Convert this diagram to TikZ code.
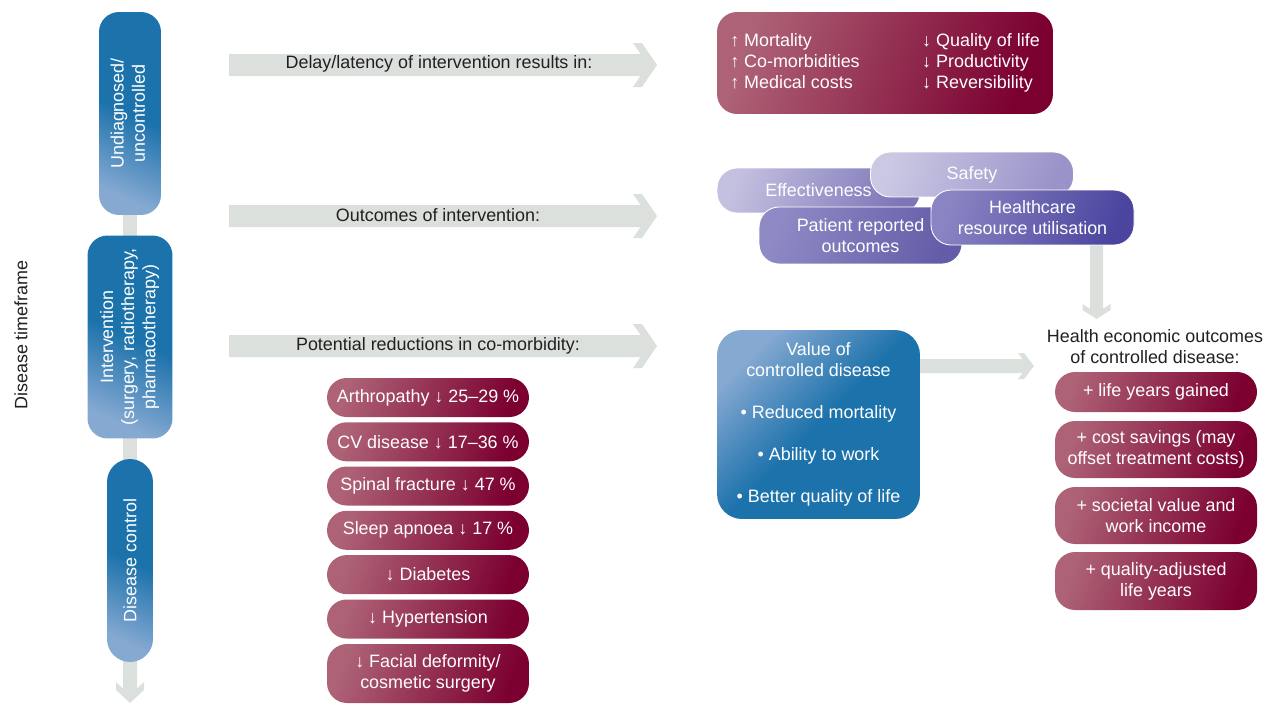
\documentclass[tikz,border=0pt]{standalone}
\usepackage{fontspec}
\setmainfont{Liberation Sans}
\usetikzlibrary{backgrounds}
\definecolor{bluedark}{HTML}{1C72AB}
\definecolor{bluelight}{HTML}{86A9D2}
\definecolor{reddark}{HTML}{7B0030}
\definecolor{redlight}{HTML}{AD6276}
\definecolor{arrowgrey}{HTML}{DBE0DD}
\definecolor{labelgrey}{HTML}{231F20}
\definecolor{effleft}{HTML}{C3C0E0}
\definecolor{effright}{HTML}{7C76B8}
\definecolor{safleft}{HTML}{CBC8E4}
\definecolor{safright}{HTML}{9A93C9}
\definecolor{proleft}{HTML}{8F8AC5}
\definecolor{proright}{HTML}{635DA8}
\definecolor{hcleft}{HTML}{8984C2}
\definecolor{hcright}{HTML}{4B459F}

\begin{document}
\begin{tikzpicture}[x=0.02cm,y=-0.02cm,
  every node/.style={font=\fontsize{10.2}{12}\selectfont, inner sep=0pt},
  lbl/.style={text=labelgrey, align=center},
  phase/.style={top color=bluedark, bottom color=bluelight, middle color=bluedark, shading angle=-25,
    text=white, rounded corners=4mm, minimum height=40.6mm},
  redfill/.style={left color=redlight, right color=reddark, shading angle=70, text=white},
  redpill/.style={redfill, align=center, minimum width=40.4mm, minimum height=7.8mm, rounded corners=3.9mm},
  purp/.style 2 args={left color=#1, right color=#2, shading angle=70, text=white, align=center,
    draw=white, line width=0.5pt, rounded corners=4mm, minimum width=40.6mm}]
\useasboundingbox (0,0) rectangle (1266,703);

\node[lbl, rotate=90] (timeframe) at (21,335) {Disease timeframe};
\node[phase, minimum width=12.4mm] (undiag) at (130,113.5)
  {\rotatebox{90}{\begin{tabular}{@{}c@{}}Undiagnosed/\\uncontrolled\end{tabular}}};
\node[phase, minimum width=17mm] (interv) at (130,337)
  {\rotatebox{90}{\begin{tabular}{@{}c@{}}Intervention\\(surgery, radiotherapy,\\pharmacotherapy)\end{tabular}}};
\node[phase, minimum width=9.2mm, rounded corners=4.6mm] (control) at (130,560.5)
  {\rotatebox{90}{Disease control}};

\node[lbl] (delay) at (439,64) {Delay/latency of intervention results in:};
\node[lbl] (outcomes) at (438,215) {Outcomes of intervention:};
\node[lbl] (reduct) at (438,346) {Potential reductions in co-morbidity:};

\node[redfill, rounded corners=4mm, minimum width=67.2mm, minimum height=20.4mm] (risk) at (885,63)
  {\begin{tabular}{@{}p{38.4mm}@{}l@{}}↑ Mortality & ↓ Quality of life\\↑ Co-morbidities & ↓ Productivity\\↑ Medical costs & ↓ Reversibility\end{tabular}};

\node[purp={effleft}{effright}, minimum height=9mm] (effect) at (818.5,190.5) {Effectiveness};
\node[purp={proleft}{proright}, minimum height=11.4mm] (pro) at (860.5,235.5) {Patient reported\\outcomes};
\node[purp={safleft}{safright}, minimum height=9mm] (safety) at (972,174.5) {Safety};
\node[purp={hcleft}{hcright}, minimum height=11mm] (health) at (1032.5,217.5) {Healthcare\\resource utilisation};

\node[top color=bluelight, bottom color=bluedark, middle color=bluedark, shading angle=45, text=white,
  align=center, rounded corners=5mm, minimum width=40.6mm, minimum height=37.8mm] (value) at (818.5,424.5)
  {Value of\\controlled disease\\[4.2mm]• Reduced mortality\\[4.2mm]• Ability to work\\[4.2mm]• Better quality of life};

\node[lbl] (hecon) at (1155,346.5) {Health economic outcomes\\of controlled disease:};
\node[redpill, minimum height=8mm, rounded corners=4mm] (lifeyears) at (1156,392) {+ life years gained};
\node[redpill, minimum height=11.4mm, rounded corners=4mm] (savings) at (1156,449.5) {+ cost savings (may\\offset treatment costs)};
\node[redpill, minimum height=11.4mm, rounded corners=4mm] (societal) at (1156,515.5) {+ societal value and\\work income};
\node[redpill, minimum height=11.6mm, rounded corners=4mm] (qaly) at (1156,581) {+ quality-adjusted\\life years};

\node[redpill] (arthro) at (428,397.5) {Arthropathy ↓ 25–29 \%};
\node[redpill] (cvd) at (428,441.8) {CV disease ↓ 17–36 \%};
\node[redpill] (spine) at (428,486) {Spinal fracture ↓ 47 \%};
\node[redpill] (apnoea) at (428,530.3) {Sleep apnoea ↓ 17 \%};
\node[redpill] (diab) at (428,574.6) {↓ Diabetes};
\node[redpill] (hyper) at (428,619) {↓ Hypertension};
\node[redpill, minimum height=11.8mm, rounded corners=4mm] (facial) at (428,673.5) {↓ Facial deformity/\\cosmetic surgery};

\begin{scope}[on background layer]
\draw[arrowgrey, line width=2.8mm] (undiag.center) -- (control.center);
\fill[arrowgrey] (123,560) -- (123,688.5) -- (116,682) -- (116,690) -- (130,703) -- (144,690) -- (144,682) -- (137,688.5) -- (137,560) -- cycle;
\fill[arrowgrey] (229,54) -- (640.5,54) -- (633,43) -- (642,43) -- (657,65) -- (642,87) -- (633,87) -- (640.5,76) -- (229,76) -- cycle;
\fill[arrowgrey] (229,205) -- (640.5,205) -- (633,194) -- (642,194) -- (657,216) -- (642,238) -- (633,238) -- (640.5,227) -- (229,227) -- cycle;
\fill[arrowgrey] (229,335) -- (640.5,335) -- (633,324) -- (642,324) -- (657,346) -- (642,368) -- (633,368) -- (640.5,357) -- (229,357) -- cycle;
\fill[arrowgrey] (900,359) -- (1022.6,359) -- (1018,353) -- (1024,353) -- (1034,366) -- (1024,379) -- (1018,379) -- (1022.6,373) -- (900,373) -- cycle;
\fill[arrowgrey] (1090,230) -- (1090,308.8) -- (1082.5,304) -- (1082.5,310) -- (1096.5,319) -- (1110.5,310) -- (1110.5,304) -- (1103,308.8) -- (1103,230) -- cycle;
\end{scope}
\end{tikzpicture}
\end{document}
